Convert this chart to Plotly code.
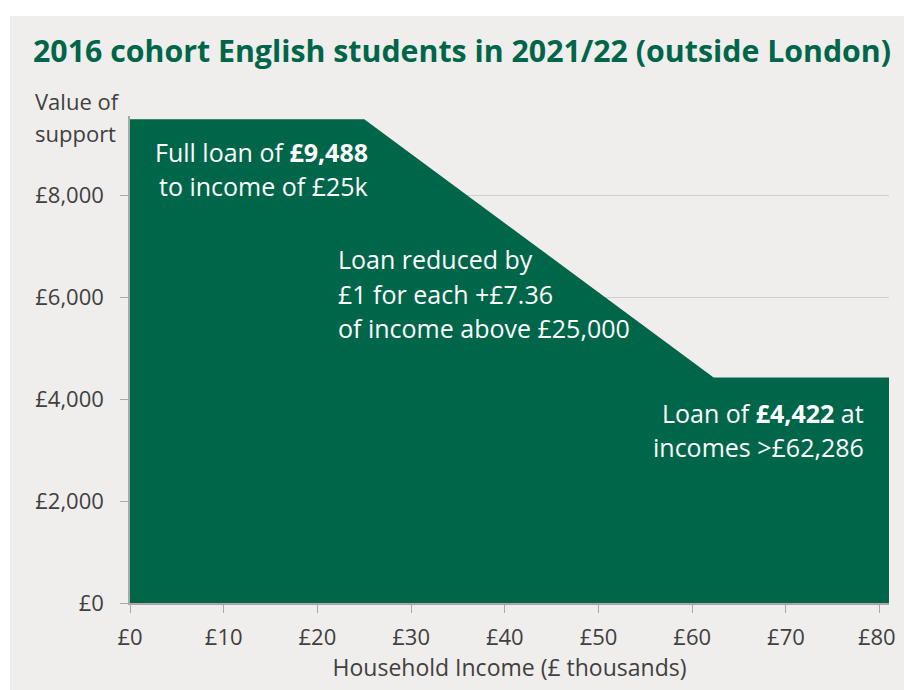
import plotly.graph_objects as go

# Data
income_k = [0, 25, 62.286, 81]
support = [9488, 9488, 4422, 4422]
x_ticks = [0, 10, 20, 30, 40, 50, 60, 70, 80]
x_tick_labels = ["£0", "£10", "£20", "£30", "£40", "£50", "£60", "£70", "£80\u00a0"]
y_ticks = [0, 2000, 4000, 6000, 8000]
y_tick_labels = ["£0", "£2,000", "£4,000", "£6,000", "£8,000"]

GREEN = "#00664a"
BG = "#efeeec"
TXT = "#404040"
FONT = "Open Sans"

W, H = 904, 690
L, R, T, B = 130, 15, 116, 87
XMAX, YMAX = 81, 9550
pw, ph = W - L - R, H - T - B


def px_x(px):
    return (px - L) / pw * XMAX


def px_y(py):
    return (H - B - py) / ph * YMAX


fig = go.Figure()
fig.add_trace(go.Scatter(
    x=income_k, y=support, mode="lines", fill="tozeroy",
    fillcolor=GREEN, line=dict(width=0, color=GREEN), hoverinfo="skip",
    showlegend=False,
))

ann = []
def line(text, px, py, anchor):
    ann.append(dict(text=text, x=px_x(px), y=px_y(py), xref="x", yref="y",
                    xanchor=anchor, yanchor="middle", showarrow=False,
                    font=dict(family=FONT, size=25, color="white")))

line("Full loan of <b>£9,488</b>", 370, 152, "right")
line("to income of £25k", 370, 186, "right")
line("Loan reduced by", 336, 259, "left")
line("£1 for each +£7.36", 336, 294, "left")
line("of income above £25,000", 336, 328, "left")
line("Loan of <b>£4,422</b> at", 866, 413, "right")
line("incomes >£62,286", 866, 447, "right")

# axis title pieces
for txt, py in [("Value of", 101), ("support", 133)]:
    ann.append(dict(text=txt, x=(33 - L) / pw, y=(H - B - py) / ph, xref="paper", yref="paper",
                    xanchor="left", yanchor="middle", showarrow=False,
                    font=dict(family=FONT, size=22, color=TXT)))

fig.update_layout(
    width=W, height=H,
    margin=dict(l=L, r=R, t=T, b=B, autoexpand=False),
    paper_bgcolor="white",
    plot_bgcolor=BG,
    title=dict(text="<b>2016 cohort English students in 2021/22 (outside London)</b>",
               x=33 / W, xanchor="left", y=1 - 51 / H, yanchor="middle",
               font=dict(family=FONT, size=30.3, color=GREEN)),
    annotations=ann,
    shapes=[dict(type="rect", xref="paper", yref="paper", layer="below",
                 x0=(10 - L) / pw, x1=(W + 5 - L) / pw,
                 y0=-(B + 5) / ph, y1=(H - B - 16) / ph,
                 fillcolor=BG, line=dict(width=0))],
    xaxis=dict(range=[0, XMAX], tickmode="array", tickvals=x_ticks, ticktext=x_tick_labels,
               showgrid=False, zeroline=False, showline=True, linecolor="#a8a8a8", linewidth=1.5,
               ticks="outside", ticklen=8, tickcolor="#a8a8a8", ticklabelstandoff=6,
               ticklabeloverflow="allow", automargin=False,
               tickfont=dict(family=FONT, size=22, color=TXT),
               title=dict(text="Household Income (£ thousands)", standoff=10,
                          font=dict(family=FONT, size=23, color=TXT))),
    yaxis=dict(range=[0, YMAX], tickmode="array", tickvals=y_ticks, ticktext=y_tick_labels,
               showgrid=True, gridcolor="#cfcfcf", gridwidth=1, zeroline=False,
               showline=True, linecolor="#a8a8a8", linewidth=1.5, automargin=False,
               ticks="outside", ticklen=8, tickcolor="#a8a8a8", ticklabelstandoff=12,
               tickfont=dict(family=FONT, size=22, color=TXT)),
)

fig.write_html("out.html", config={"displayModeBar": False},
               post_script="document.body.style.margin='0';document.body.style.overflow='hidden';")
